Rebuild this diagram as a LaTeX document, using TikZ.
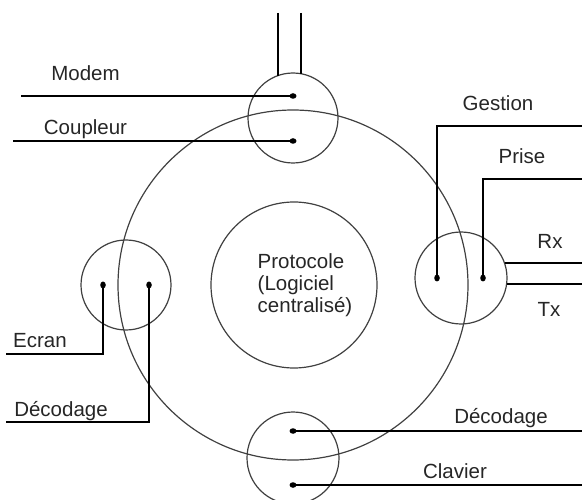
\documentclass[tikz,border=0pt]{standalone}
\usepackage{fontspec}
\setmainfont{Liberation Sans}
\usetikzlibrary{shapes.geometric}
\begin{document}
\begin{tikzpicture}[x=1pt,y=-1pt,
  ring/.style={draw=black!75,line width=1.2pt,circle,inner sep=0pt},
  dot/.style={fill=black,ellipse,inner sep=0pt,minimum width=7pt,minimum height=5.5pt},
  vdot/.style={fill=black,ellipse,inner sep=0pt,minimum width=5.5pt,minimum height=7pt},
  wire/.style={draw=black,line width=1.25pt},
  lbl/.style={anchor=base,inner sep=0pt,font=\fontsize{20.5}{23}\selectfont,text=black!85}]
\useasboundingbox (0,0) rectangle (582,500);
% circles
\node[ring,minimum size=350pt] (big) at (293,285) {};
\node[ring,minimum size=166pt] (proto) at (294,285) {};
\node[ring,minimum size=90pt] (top) at (293,118) {};
\node[ring,minimum size=90pt] (left) at (126,285) {};
\node[ring,minimum size=92pt] (right) at (461,278) {};
\node[ring,minimum size=92pt] (bottom) at (293,458) {};
\node[align=left,inner sep=0pt,font=\fontsize{20.5}{22}\selectfont,text=black!85] (ptext) at (305,285) {Protocole\\(Logiciel\\centralisé)};
% dots
\node[dot] (dmodem) at (293,96) {};
\node[dot] (dcoupl) at (293,141) {};
\node[vdot] (decran) at (103,285) {};
\node[vdot] (ddecl) at (149,285) {};
\node[vdot] (dgest) at (437,278) {};
\node[vdot] (dprise) at (483,278) {};
\node[dot] (ddecb) at (293,431) {};
\node[dot] (dclav) at (293,485) {};
% free ends
\coordinate (t1a) at (278,13); \coordinate (t1b) at (278,75.6);
\coordinate (t2a) at (301,13); \coordinate (t2b) at (301,73.7);
\coordinate (emodem) at (21,96);
\coordinate (ecoupl) at (13,141);
\coordinate (cgest) at (437,126); \coordinate (egest) at (582,126);
\coordinate (cprise) at (483,179); \coordinate (eprise) at (582,179);
\coordinate (rxa) at (504.5,263); \coordinate (rxb) at (582,263);
\coordinate (txa) at (506.6,284); \coordinate (txb) at (582,284);
\coordinate (cecran) at (103,354); \coordinate (eecran) at (6,354);
\coordinate (cdecl) at (149,422); \coordinate (edecl) at (6,422);
\coordinate (edecb) at (582,431);
\coordinate (eclav) at (582,485);
% wires
\draw[wire] (t1a) -- (t1b);
\draw[wire] (t2a) -- (t2b);
\draw[wire] (dmodem.center) -- (emodem);
\draw[wire] (dcoupl.center) -- (ecoupl);
\draw[wire] (dgest.center) -- (cgest) -- (egest);
\draw[wire] (dprise.center) -- (cprise) -- (eprise);
\draw[wire] (rxa) -- (rxb);
\draw[wire] (txa) -- (txb);
\draw[wire] (decran.center) -- (cecran) -- (eecran);
\draw[wire] (ddecl.center) -- (cdecl) -- (edecl);
\draw[wire] (ddecb.center) -- (edecb);
\draw[wire] (dclav.center) -- (eclav);
% labels
\node[lbl] (lmodem) at (85.5,81) {Modem};
\node[lbl] (lcoupl) at (85.5,135) {Coupleur};
\node[lbl] (lgest) at (498,111) {Gestion};
\node[lbl] (lprise) at (522,164) {Prise};
\node[lbl] (lrx) at (550,249) {Rx};
\node[lbl] (ltx) at (549,317) {Tx};
\node[lbl] (lecran) at (40,348) {Ecran};
\node[lbl] (ldecl) at (61,416) {Décodage};
\node[lbl] (ldecb) at (501,424) {Décodage};
\node[lbl] (lclav) at (455,478) {Clavier};
\end{tikzpicture}
\end{document}
